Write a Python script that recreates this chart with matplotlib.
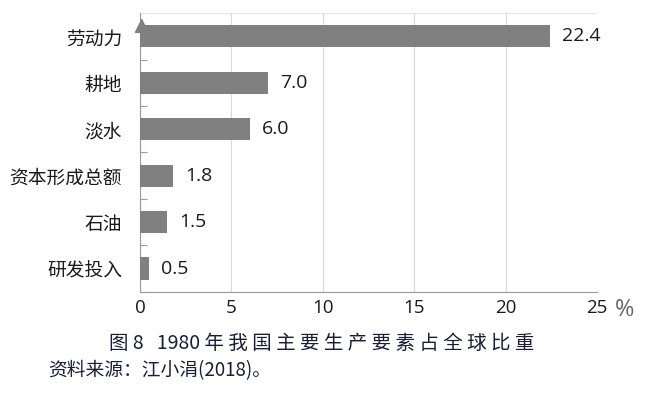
import numpy as np
import matplotlib
matplotlib.use("Agg")
import matplotlib.pyplot as plt

plt.rcParams['font.family'] = ['Noto Sans CJK SC', 'DejaVu Sans']

categories = ["研发投入", "石油", "资本形成总额", "淡水", "耕地", "劳动力"]
values = [0.5, 1.5, 1.8, 6.0, 7.0, 22.4]
xticks = [0, 5, 10, 15, 20, 25]

fig = plt.figure(figsize=(6.57, 3.96), dpi=100, facecolor='w')
ax = fig.add_axes([0.213, 0.263, 0.696, 0.704])

y = np.arange(len(categories))
ax.barh(y, values, height=0.48, color='#808080', zorder=3)
for yi, v in zip(y, values):
    ax.text(v + 0.65, yi, f"{v:.1f}", va='center', ha='left',
            fontsize=14, color='#1a1a1a', family='Open Sans')

ax.set_xlim(0, 25)
ax.set_ylim(-0.5, 5.5)
ax.set_xticks(xticks)
ax.set_xticklabels([str(t) for t in xticks], fontsize=13.5, color='#1a1a1a',
                   family='Open Sans')
ax.tick_params(axis='x', length=0, pad=5)

ax.set_yticks(y)
ax.set_yticklabels(categories, fontsize=13.5, color='#1a1a1a')
ax.tick_params(axis='y', length=0, pad=13)
# small boundary ticks on the y axis
ax.set_yticks(np.arange(-0.5, 5.5, 1.0), minor=True)
ax.tick_params(axis='y', which='minor', direction='in', length=5,
               color='#999999', width=0.8)

ax.grid(axis='x', color='#d9d9d9', linewidth=0.8, zorder=0)
for s in ['right', 'top']:
    ax.spines[s].set_visible(False)
ax.axhline(5.5, color='#e6e6e6', linewidth=0.8, zorder=0)
ax.spines['left'].set_color('#999999')
ax.spines['bottom'].set_color('#999999')

# arrow at the top of the y axis
ax.annotate('', xy=(0.1, 5.45), xytext=(0.1, 4.9),
            xycoords='data',
            arrowprops=dict(arrowstyle='-|>', color='#808080', lw=1.2,
                            mutation_scale=22), annotation_clip=False)

fig.text(0.951, 0.218, "%", fontsize=17, color='#666666', ha='center',
         va='center', family='Open Sans')

fig.text(0.49, 0.133, "图 8   1980 年 我 国 主 要 生 产 要 素 占 全 球 比 重",
         fontsize=14, color='#1c1c3a', ha='center', va='center')
fig.text(0.073, 0.065, "资料来源：江小涓(2018)。", fontsize=13.5,
         color='#1c1c3a', ha='left', va='center')

fig.savefig("out.png", dpi=100)
